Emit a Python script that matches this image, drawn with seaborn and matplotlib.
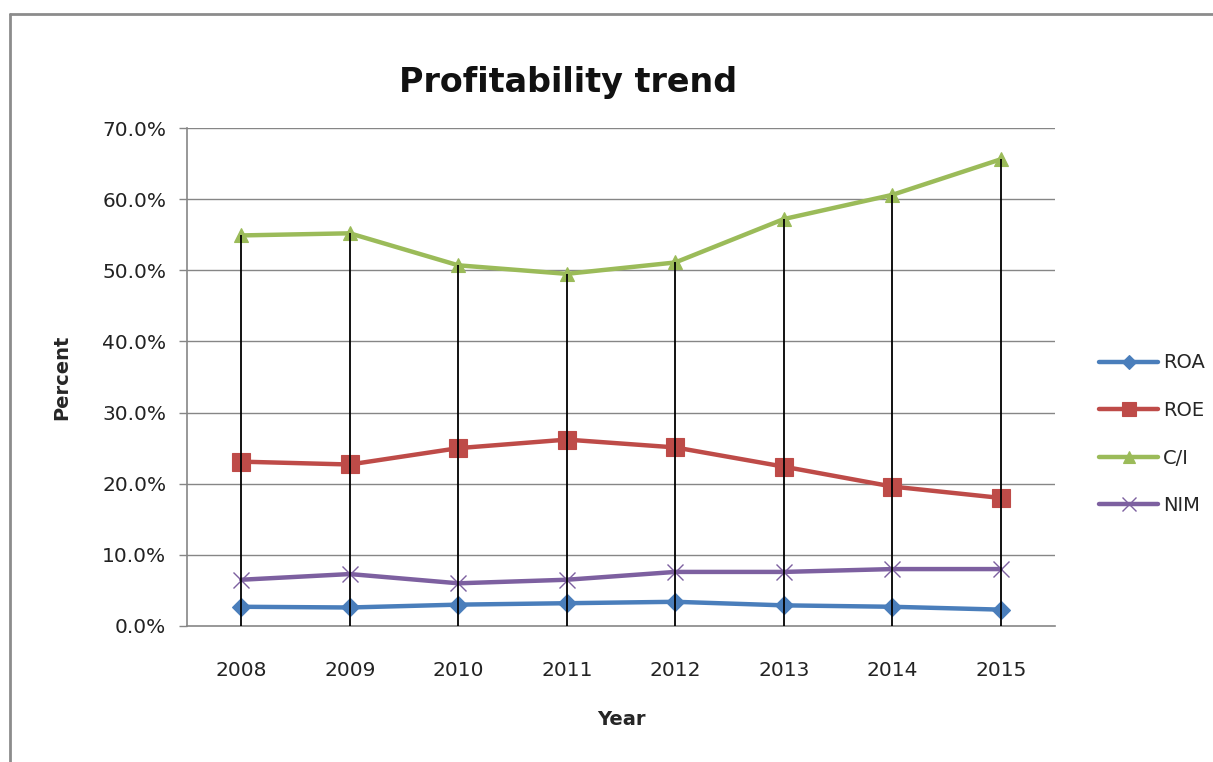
import matplotlib
matplotlib.use("Agg")
import matplotlib.pyplot as plt
from matplotlib.lines import Line2D
from matplotlib.ticker import PercentFormatter, MultipleLocator
import seaborn as sns
import pandas as pd

# Profitability ratios per year, in percent
years = [2008, 2009, 2010, 2011, 2012, 2013, 2014, 2015]
roa = [2.7, 2.6, 3.0, 3.2, 3.4, 2.9, 2.7, 2.3]
roe = [23.1, 22.7, 25.0, 26.2, 25.1, 22.4, 19.6, 18.0]
ci = [54.9, 55.2, 50.7, 49.5, 51.1, 57.2, 60.6, 65.6]
nim = [6.5, 7.3, 6.0, 6.5, 7.6, 7.6, 8.0, 8.0]

series_names = ["ROA", "ROE", "C/I", "NIM"]
series_values = [roa, roe, ci, nim]

colors = {"ROA": "#4A7EBB", "ROE": "#BE4B48", "C/I": "#9BBB59", "NIM": "#7D60A0"}
markers = {"ROA": "D", "ROE": "s", "C/I": "^", "NIM": "x"}
msizes = {"ROA": 9, "ROE": 13, "C/I": 10, "NIM": 12}

df = pd.DataFrame(
    [(y, name, v) for name, vals in zip(series_names, series_values) for y, v in zip(years, vals)],
    columns=["Year", "Series", "Percent"],
)

sns.set_theme(style="white")
plt.rcParams["font.family"] = ["DejaVu Sans"]

fig = plt.figure(figsize=(12.13, 7.62), dpi=100)
ax = fig.add_axes([0.1542, 0.1785, 0.7155, 0.6535])

grid_c = "#868686"
for yv in range(10, 71, 10):
    ax.axhline(yv, color=grid_c, lw=1.0, zorder=1)

for name in series_names:
    sub = df[df["Series"] == name]
    sns.lineplot(
        data=sub, x="Year", y="Percent", ax=ax, color=colors[name],
        marker=markers[name], markersize=msizes[name], markeredgecolor=colors[name],
        markeredgewidth=1.0 if name == "NIM" else 0.8,
        linewidth=3.2, label=name, zorder=3, sort=False,
    )

# drop lines from the highest series down to the axis
tops = [max(vals) for vals in zip(*series_values)]
ax.vlines(years, 0, tops, color="black", lw=1.3, zorder=5)

ax.set_xlim(2007.5, 2015.5)
ax.set_ylim(0, 70)
ax.yaxis.set_major_locator(MultipleLocator(10))
ax.yaxis.set_major_formatter(PercentFormatter(xmax=100, decimals=1))
ax.set_xticks(years)
ax.set_xticklabels([str(y) for y in years])

for side in ["top", "right"]:
    ax.spines[side].set_visible(False)
for side in ["left", "bottom"]:
    ax.spines[side].set_color(grid_c)
    ax.spines[side].set_linewidth(1.2)

ax.tick_params(axis="y", which="major", direction="out", length=6, width=1,
               color=grid_c, pad=9, labelsize=14.5, labelcolor="#222222", left=True)
ax.tick_params(axis="x", which="major", length=0, pad=25, labelsize=14.5,
               labelcolor="#222222")

ax.set_xlabel("Year", fontsize=14, fontweight="bold", labelpad=22)
ax.set_ylabel("Percent", fontsize=14, fontweight="bold", labelpad=22)

fig.text(0.468, 0.892, "Profitability trend", ha="center", va="center",
         fontsize=24, fontweight="bold", color="#111111")

handles, labels = ax.get_legend_handles_labels()
ax.legend(handles, labels, loc="center left", bbox_to_anchor=(0.892, 0.43),
          bbox_transform=fig.transFigure, frameon=False, fontsize=14,
          handlelength=3.0, labelspacing=1.47, handletextpad=0.25,
          markerscale=0.8)

# chart area border
fig.add_artist(Line2D([0.0085, 0.0085], [0.0, 0.981], transform=fig.transFigure,
                      color="#8c8c8c", lw=2))
fig.add_artist(Line2D([0.0085, 1.0], [0.981, 0.981], transform=fig.transFigure,
                      color="#8c8c8c", lw=2))

fig.savefig("out.png", dpi=100, facecolor="white")
